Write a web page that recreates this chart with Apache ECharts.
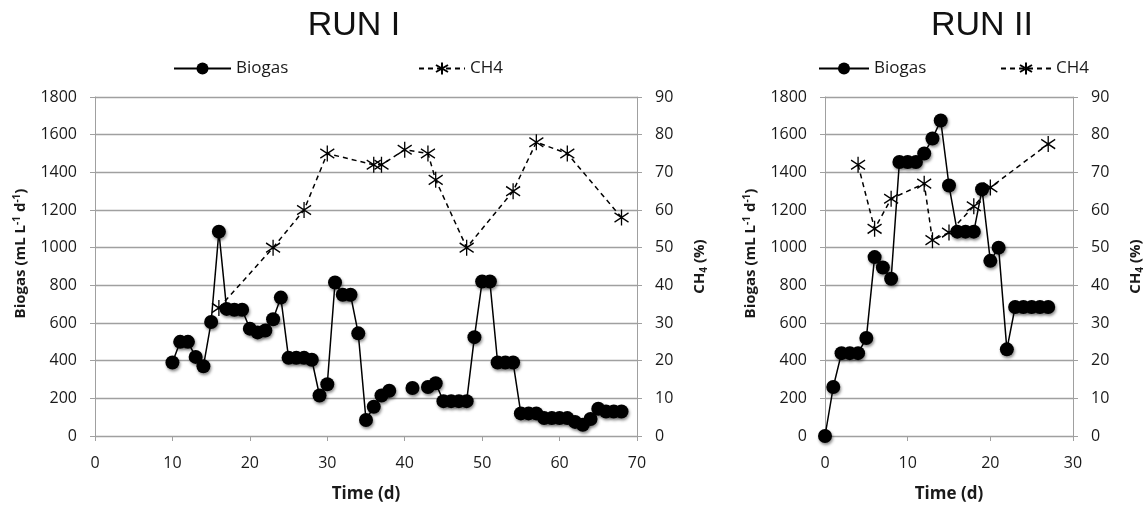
<!DOCTYPE html>
<html>
<head>
<meta charset="utf-8" />
<title>RUN I / RUN II</title>
<script src="https://cdn.jsdelivr.net/npm/echarts@6/dist/echarts.min.js"></script>
<style>
  html, body { margin: 0; padding: 0; background: #fff; }
  #chart { width: 1147px; height: 508px; }
</style>
</head>
<body>
<div id="chart"></div>
<script>
// RUN I - biogas (day, mL/L/d), null = no reading
var run1Days = [10,11,12,13,14,15,16,17,18,19,20,21,22,23,24,25,26,27,28,29,30,31,32,33,34,35,36,37,38,39,40,41,42,43,44,45,46,47,48,49,50,51,52,53,54,55,56,57,58,59,60,61,62,63,64,65,66,67,68];
var run1Biogas = [390,500,500,420,370,605,1085,675,670,670,570,550,560,620,735,415,415,415,405,215,275,815,750,750,545,85,155,215,240,null,null,255,null,260,280,185,185,185,185,525,820,820,390,390,390,120,120,120,95,95,95,95,75,60,90,145,130,130,130];
// RUN I - CH4 (%)
var run1Ch4Days = [16,23,27,30,36,37,40,43,44,48,54,57,61,68];
var run1Ch4 = [34,50,60,75,72,72,76,75,68,50,65,78,75,58];

// RUN II - biogas
var run2Days = [0,1,2,3,4,5,6,7,8,9,10,11,12,13,14,15,16,17,18,19,20,21,22,23,24,25,26,27];
var run2Biogas = [0,260,440,440,440,520,950,895,835,1455,1455,1455,1500,1580,1675,1330,1085,1085,1085,1310,930,1000,460,685,685,685,685,685];
// RUN II - CH4
var run2Ch4Days = [4,6,8,12,13,15,18,20,27];
var run2Ch4 = [72,55,63,67,52,54,61,66,77.5];

var titles = ["RUN I", "RUN II"];

function pairs(xs, ys) {
  var out = [];
  for (var i = 0; i < xs.length; i++) {
    out.push([xs[i], ys[i] == null ? "-" : ys[i]]);
  }
  return out;
}

var GRAY = "#a0a0a0";
var TXT = "#1a1a1a";
var FONT = "Open Sans";
var STAR = "path://M5,0L5,12M0,2.5L10,9.5M0,9.5L10,2.5";

var bioName = "{b|Biogas (mL L}{s|-1}{b| d}{s|-1}{b|)}";
var ch4Name = "{b|CH}{u|4}{b| (%)}";
var nameRich = {
  b: { fontFamily: FONT, fontSize: 15, fontWeight: "bold", color: TXT },
  s: { fontFamily: FONT, fontSize: 10, fontWeight: "bold", color: TXT, verticalAlign: "top", padding: [0, 0, 8, 0] },
  u: { fontFamily: FONT, fontSize: 10, fontWeight: "bold", color: TXT, padding: [8, 0, 0, 0] }
};

function plain(v) { return String(v); }

function xAx(grid, max) {
  return {
    type: "value", gridIndex: grid, min: 0, max: max, interval: 10,
    name: "Time (d)", nameLocation: "middle", nameGap: 50,
    nameTextStyle: { fontFamily: FONT, fontSize: 17, fontWeight: "bold", color: TXT },
    axisLine: { lineStyle: { color: GRAY, width: 1 } },
    axisTick: { show: true, length: 5, lineStyle: { color: GRAY } },
    axisLabel: { margin: 19, fontFamily: FONT, fontSize: 16, color: TXT },
    splitLine: { show: false }
  };
}

function leftAx(grid) {
  return {
    type: "value", gridIndex: grid, position: "left", min: 0, max: 1800, interval: 200,
    name: bioName, nameLocation: "middle", nameRotate: 90, nameGap: 65,
    nameTextStyle: { rich: nameRich, padding: [0, 0, 0, 26] },
    axisLine: { show: true, lineStyle: { color: GRAY, width: 1 } },
    axisTick: { show: true, length: 5, lineStyle: { color: GRAY } },
    axisLabel: { margin: 18, fontFamily: FONT, fontSize: 16, color: TXT, formatter: plain },
    splitLine: { show: true, lineStyle: { color: GRAY, width: 1.3 } }
  };
}

function rightAx(grid) {
  return {
    type: "value", gridIndex: grid, position: "right", min: 0, max: 90, interval: 10,
    name: ch4Name, nameLocation: "middle", nameRotate: 90, nameGap: 54,
    nameTextStyle: { rich: nameRich },
    axisLine: { show: true, lineStyle: { color: GRAY, width: 1 } },
    axisTick: { show: true, length: 5, lineStyle: { color: GRAY } },
    axisLabel: { margin: 18, fontFamily: FONT, fontSize: 16, color: TXT, formatter: plain },
    splitLine: { show: false }
  };
}

var shadow = { shadowColor: "rgba(0,0,0,0.45)", shadowBlur: 3, shadowOffsetX: 1, shadowOffsetY: 2 };

function biogasSeries(idx, data) {
  return {
    name: "Biogas", type: "line", xAxisIndex: idx, yAxisIndex: idx * 2,
    data: data, symbol: "circle", symbolSize: 14, connectNulls: false,
    lineStyle: { color: "#000", width: 1.5 },
    itemStyle: Object.assign({ color: "#000" }, shadow),
    animation: false, z: 3
  };
}

function ch4Series(idx, data) {
  return {
    name: "CH4", type: "line", xAxisIndex: idx, yAxisIndex: idx * 2 + 1,
    data: data, symbol: STAR, symbolSize: [14, 16],
    lineStyle: { color: "#000", width: 1.5, type: [5, 4] },
    itemStyle: { color: "#000", borderColor: "#000", borderWidth: 1.4 },
    animation: false, z: 2
  };
}

function leg(name, left, w) {
  return {
    data: [name], left: left, top: 60, padding: 0, itemWidth: w, itemHeight: 15,
    selectedMode: false,
    textStyle: { fontFamily: FONT, fontSize: 17, color: TXT }
  };
}

var option = {
  backgroundColor: "#fff",
  animation: false,
  title: [
    { text: titles[0], left: 349, top: 4, textAlign: "center",
      textStyle: { fontFamily: "Liberation Sans", fontSize: 34, fontWeight: "normal", color: "#111" } },
    { text: titles[1], left: 977, top: 4, textAlign: "center",
      textStyle: { fontFamily: "Liberation Sans", fontSize: 34, fontWeight: "normal", color: "#111" } }
  ],
  legend: [
    leg("Biogas", 173, 57),
    leg("CH4", 418, 46),
    leg("Biogas", 818, 50),
    leg("CH4", 1000, 50)
  ],
  grid: [
    { left: 95, top: 97, width: 542, height: 341 },
    { left: 825, top: 97, width: 248, height: 341 }
  ],
  xAxis: [xAx(0, 70), xAx(1, 30)],
  yAxis: [leftAx(0), rightAx(0), leftAx(1), rightAx(1)],
  series: [
    biogasSeries(0, pairs(run1Days, run1Biogas)),
    ch4Series(0, pairs(run1Ch4Days, run1Ch4)),
    biogasSeries(1, pairs(run2Days, run2Biogas)),
    ch4Series(1, pairs(run2Ch4Days, run2Ch4))
  ]
};

var myChart = echarts.init(document.getElementById("chart"), null, { renderer: "canvas" });
myChart.setOption(option);
</script>
</body>
</html>
